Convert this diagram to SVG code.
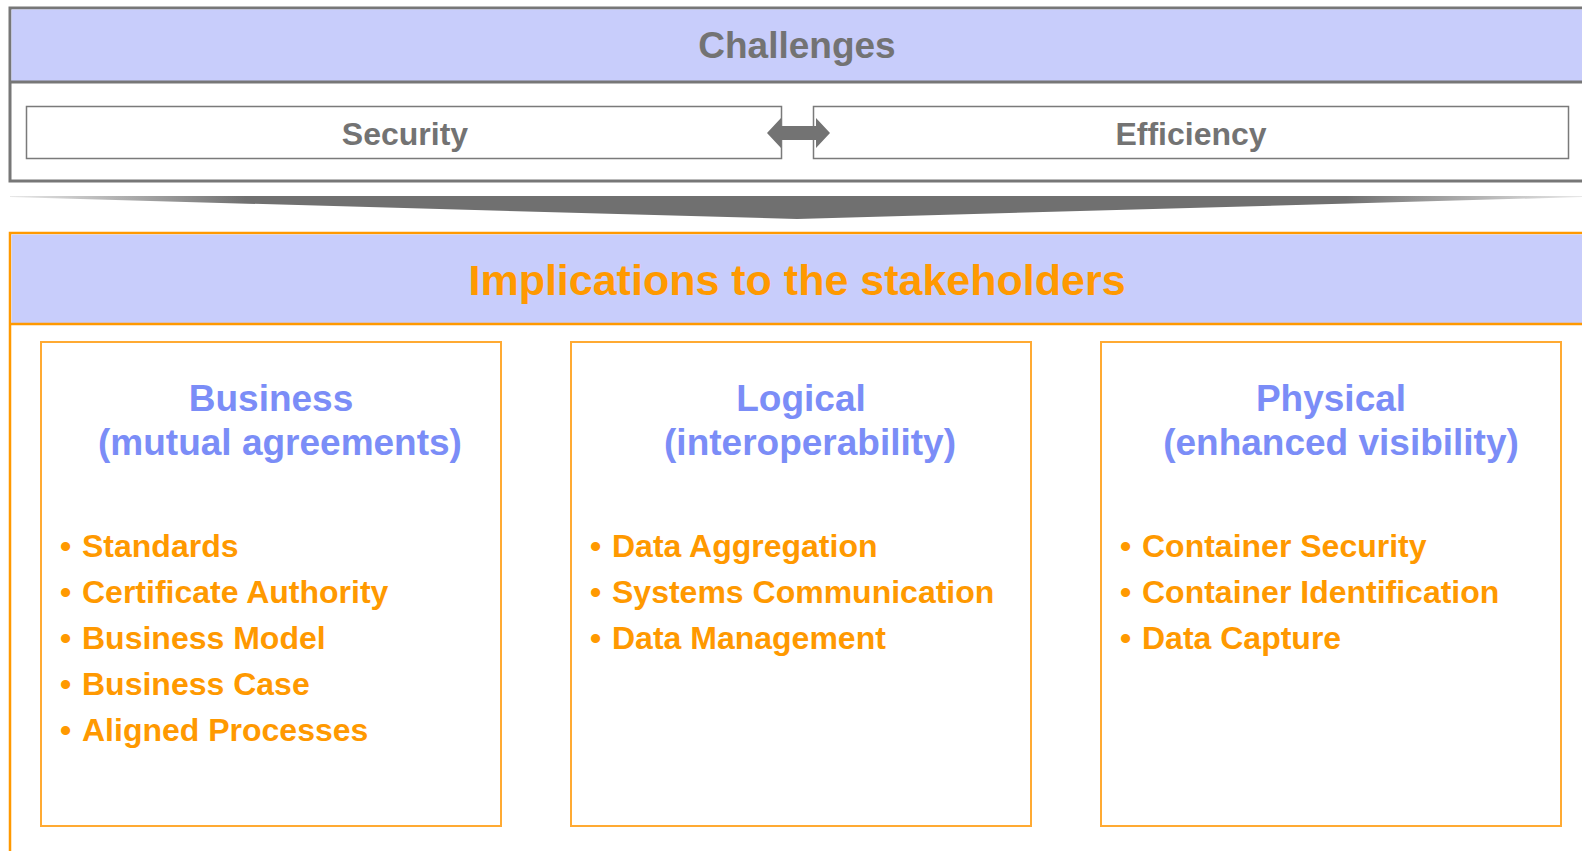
<svg xmlns="http://www.w3.org/2000/svg" width="1582" height="851" viewBox="0 0 1582 851">
<style>
text{font-family:"Liberation Sans",Arial,sans-serif;font-weight:bold}
.gray{fill:#737373}
.title{fill:#7B8DF7;font-size:37px;text-anchor:middle}
.item{fill:#FF9900;font-size:32px}
.inner{fill:#ffffff;stroke:#FFAA33;stroke-width:2}
.cbox{fill:#ffffff;stroke:#7a7a7a;stroke-width:1.5}
</style>
<defs>
<linearGradient id="wedge" x1="0" y1="0" x2="1" y2="0">
<stop offset="0" stop-color="#e8e8e8"/>
<stop offset="0.15" stop-color="#707070"/>
<stop offset="0.85" stop-color="#707070"/>
<stop offset="1" stop-color="#e8e8e8"/>
</linearGradient>
</defs>
<rect x="0" y="0" width="1582" height="851" fill="#ffffff"/>

<g id="challenges">
<rect x="10" y="8" width="1600" height="173" fill="#ffffff" stroke="#777777" stroke-width="3"/>
<rect x="11.5" y="9.5" width="1600" height="72" fill="#C8CDFB"/>
<line x1="10" y1="82" x2="1582" y2="82" stroke="#777777" stroke-width="3"/>
<text x="797" y="58" class="gray" font-size="37" text-anchor="middle">Challenges</text>
</g>

<g id="security">
<rect x="26.5" y="106.5" width="755" height="52" class="cbox"/>
<text x="405" y="145" class="gray" font-size="32" text-anchor="middle">Security</text>
</g>

<g id="efficiency">
<rect x="813.5" y="106.5" width="755" height="52" class="cbox"/>
<text x="1191" y="145" class="gray" font-size="32" text-anchor="middle">Efficiency</text>
</g>

<g id="connectors">
<polygon points="767,133 781,118 781,126 816,126 816,118 830,133 816,148 816,140 781,140 781,148" fill="#737373"/>
<polygon points="10,196 1582,196 1582,197 797,219 10,197" fill="url(#wedge)"/>
</g>

<g id="implications">
<rect x="10" y="233" width="1600" height="640" fill="#ffffff" stroke="#FF9900" stroke-width="2.5"/>
<rect x="11.5" y="234.5" width="1600" height="89" fill="#C8CDFB"/>
<line x1="10" y1="324" x2="1582" y2="324" stroke="#FF9900" stroke-width="2.5"/>
<text x="797" y="295" fill="#FF9900" font-size="43" text-anchor="middle">Implications to the stakeholders</text>
</g>

<g id="business">
<rect x="41" y="342" width="460" height="484" class="inner"/>
<text x="271" y="411" class="title">Business</text>
<text x="280" y="455" class="title">(mutual agreements)</text>
<text class="item" y="557"><tspan x="60">•</tspan><tspan x="82">Standards</tspan></text>
<text class="item" y="603"><tspan x="60">•</tspan><tspan x="82">Certificate Authority</tspan></text>
<text class="item" y="649"><tspan x="60">•</tspan><tspan x="82">Business Model</tspan></text>
<text class="item" y="695"><tspan x="60">•</tspan><tspan x="82">Business Case</tspan></text>
<text class="item" y="741"><tspan x="60">•</tspan><tspan x="82">Aligned Processes</tspan></text>
</g>

<g id="logical">
<rect x="571" y="342" width="460" height="484" class="inner"/>
<text x="801" y="411" class="title">Logical</text>
<text x="810" y="455" class="title">(interoperability)</text>
<text class="item" y="557"><tspan x="590">•</tspan><tspan x="612">Data Aggregation</tspan></text>
<text class="item" y="603"><tspan x="590">•</tspan><tspan x="612">Systems Communication</tspan></text>
<text class="item" y="649"><tspan x="590">•</tspan><tspan x="612">Data Management</tspan></text>
</g>

<g id="physical">
<rect x="1101" y="342" width="460" height="484" class="inner"/>
<text x="1331" y="411" class="title">Physical</text>
<text x="1341" y="455" class="title">(enhanced visibility)</text>
<text class="item" y="557"><tspan x="1120">•</tspan><tspan x="1142">Container Security</tspan></text>
<text class="item" y="603"><tspan x="1120">•</tspan><tspan x="1142">Container Identification</tspan></text>
<text class="item" y="649"><tspan x="1120">•</tspan><tspan x="1142">Data Capture</tspan></text>
</g>
</svg>
